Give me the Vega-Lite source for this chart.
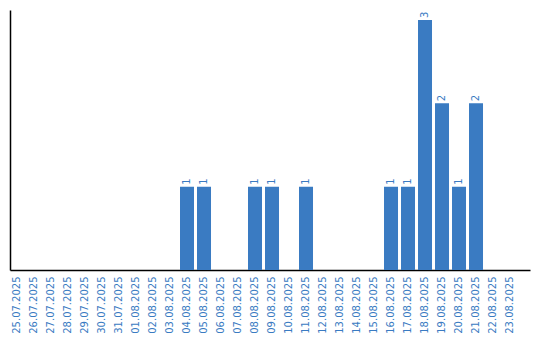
{
  "$schema": "https://vega.github.io/schema/vega-lite/v6.json",
  "width": 520,
  "height": 260,
  "autosize": {"type": "none"},
  "padding": {"left": 10, "top": 10, "right": 10, "bottom": 70},
  "background": "white",
  "config": {"view": {"stroke": null}},
  "data": {
    "values": [
      {"date": "25.07.2025", "count": 0},
      {"date": "26.07.2025", "count": 0},
      {"date": "27.07.2025", "count": 0},
      {"date": "28.07.2025", "count": 0},
      {"date": "29.07.2025", "count": 0},
      {"date": "30.07.2025", "count": 0},
      {"date": "31.07.2025", "count": 0},
      {"date": "01.08.2025", "count": 0},
      {"date": "02.08.2025", "count": 0},
      {"date": "03.08.2025", "count": 0},
      {"date": "04.08.2025", "count": 1},
      {"date": "05.08.2025", "count": 1},
      {"date": "06.08.2025", "count": 0},
      {"date": "07.08.2025", "count": 0},
      {"date": "08.08.2025", "count": 1},
      {"date": "09.08.2025", "count": 1},
      {"date": "10.08.2025", "count": 0},
      {"date": "11.08.2025", "count": 1},
      {"date": "12.08.2025", "count": 0},
      {"date": "13.08.2025", "count": 0},
      {"date": "14.08.2025", "count": 0},
      {"date": "15.08.2025", "count": 0},
      {"date": "16.08.2025", "count": 1},
      {"date": "17.08.2025", "count": 1},
      {"date": "18.08.2025", "count": 3},
      {"date": "19.08.2025", "count": 2},
      {"date": "20.08.2025", "count": 1},
      {"date": "21.08.2025", "count": 2},
      {"date": "22.08.2025", "count": 0},
      {"date": "23.08.2025", "count": 0}
    ]
  },
  "encoding": {
    "x": {
      "field": "date",
      "type": "ordinal",
      "sort": null,
      "scale": {"paddingInner": 0.1765, "paddingOuter": 0.382, "align": 0},
      "axis": {
        "title": null,
        "labelAngle": 270,
        "labelFont": "DejaVu Sans",
        "labelFontSize": 10,
        "labelColor": "#3a7bc2",
        "ticks": false,
        "labelPadding": 6,
        "domainColor": "#000000",
        "domainWidth": 1.5,
        "grid": false
      }
    },
    "y": {
      "field": "count",
      "type": "quantitative",
      "scale": {"domain": [0, 3.12], "nice": false},
      "axis": {
        "title": null,
        "labels": false,
        "ticks": false,
        "grid": false,
        "domainColor": "#000000",
        "domainWidth": 1.5
      }
    }
  },
  "layer": [
    {
      "mark": {"type": "bar", "color": "#3a7bc2"}
    },
    {
      "transform": [{"filter": "datum.count > 0"}],
      "mark": {
        "type": "text",
        "angle": 270,
        "align": "left",
        "baseline": "middle",
        "dx": 2,
        "font": "DejaVu Sans",
        "fontSize": 10,
        "color": "#3a7bc2"
      },
      "encoding": {"text": {"field": "count", "type": "quantitative"}}
    }
  ]
}
